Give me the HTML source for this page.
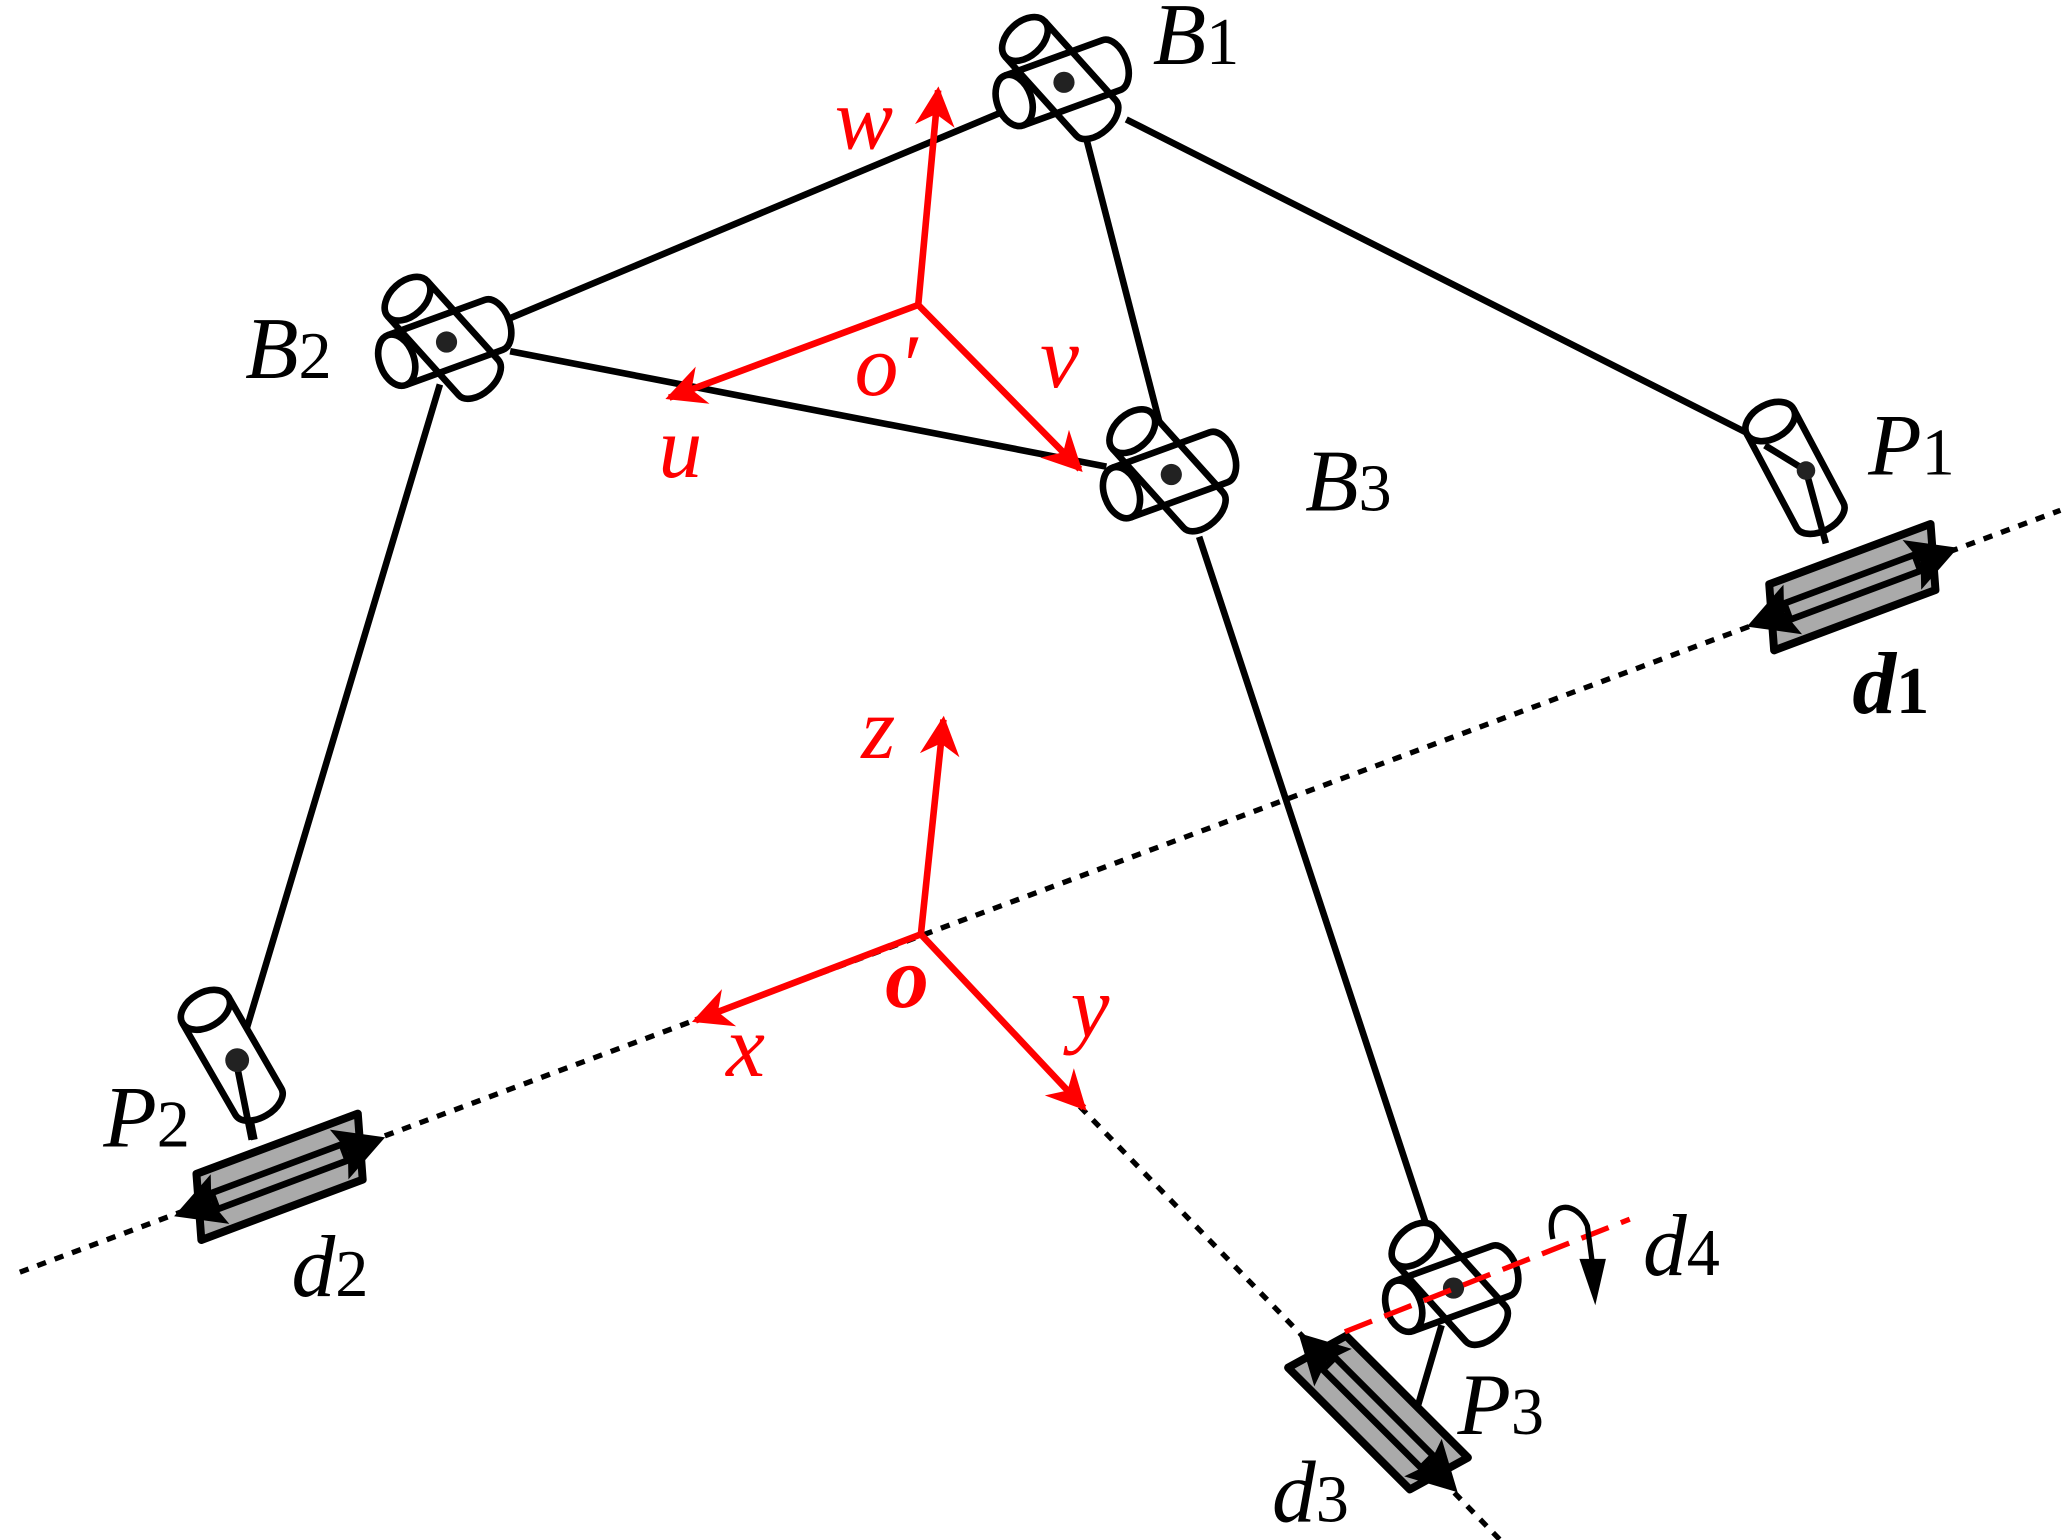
<!DOCTYPE html>
<html><head><style>html,body{margin:0;padding:0;background:#fff}svg{display:block}
.t{font-family:"Liberation Serif",serif;font-style:italic;font-size:66px}
.s{font-style:normal;font-size:50px}</style></head>
<body>
<svg width="2067" height="1540" viewBox="0 0 1560 1162" xmlns="http://www.w3.org/2000/svg">
<defs>
<g id="cyl"><!-- along x from 0 to 90, radius 20 -->
<path d="M0,-20 L80,-20 A12,20 0 0 1 80,20 L0,20" fill="#fff" stroke="#000" stroke-width="5"/>
<ellipse cx="0" cy="0" rx="13" ry="20" fill="#fff" stroke="#000" stroke-width="5"/>
</g>
<g id="joint">
<g transform="rotate(48) translate(-44,0)"><path d="M0,-20 L80,-20 A12,20 0 0 1 80,20 L0,20" fill="#fff" stroke="#000" stroke-width="5"/></g>
<g transform="rotate(-20) translate(-40,0)"><path d="M0,-20 L78,-20 A12,20 0 0 1 78,20 L0,20" fill="none" stroke="#000" stroke-width="5"/><ellipse cx="0" cy="0" rx="13" ry="20" fill="#fff" stroke="#000" stroke-width="5"/></g>
<g transform="rotate(48) translate(-44,0)"><ellipse cx="0" cy="0" rx="13" ry="20" fill="#fff" stroke="#000" stroke-width="5"/></g>
<circle cx="0" cy="0" r="8" fill="#222"/>
</g>
<marker id="ra" viewBox="0 0 10 10" refX="9" refY="5" markerWidth="6" markerHeight="6" orient="auto"><path d="M0,0 L10,5 L0,10 L3,5 z" fill="red"/></marker>
<g id="slider">
<polygon points="-72,24 -58,-24 72,-24 58,24" fill="#aaa" stroke="#000" stroke-width="6" stroke-linejoin="round"/>
<line x1="-55" y1="0" x2="55" y2="0" stroke="#000" stroke-width="18"/>
<line x1="-50" y1="0" x2="50" y2="0" stroke="#aaa" stroke-width="8"/>
<polygon points="-85,0 -48,-20 -55,0 -48,20" fill="#000"/>
<polygon points="85,0 48,-20 55,0 48,20" fill="#000"/>
</g>
</defs>
<g stroke="#000" stroke-width="4" stroke-dasharray="7,7" fill="none">
<line x1="15" y1="960" x2="1555" y2="385"/>
<line x1="815" y1="835" x2="1135" y2="1165"/>
</g>
<g stroke="#000" stroke-width="5" fill="none">
<line x1="755" y1="85" x2="385" y2="240"/>
<line x1="850" y1="90" x2="1345" y2="340"/>
<line x1="820" y1="105" x2="878" y2="330"/>
<line x1="385" y1="265" x2="835" y2="352"/>
<line x1="332" y1="290" x2="185" y2="780"/>
<line x1="905" y1="405" x2="1080" y2="935"/>
<line x1="1088" y1="1000" x2="1068" y2="1068"/>
<line x1="180" y1="800" x2="192" y2="860"/>
</g>
<!-- P joints -->
<g transform="translate(1336,318) rotate(62)"><use href="#cyl"/></g>
<line x1="1332" y1="336" x2="1363" y2="355" stroke="#000" stroke-width="5"/>
<line x1="1363" y1="355" x2="1378" y2="410" stroke="#000" stroke-width="5"/>
<circle cx="1363" cy="355" r="7" fill="#222"/>
<g transform="translate(155,762) rotate(60)"><use href="#cyl"/></g>
<line x1="178" y1="800" x2="190" y2="860" stroke="#000" stroke-width="5"/>
<circle cx="179" cy="800" r="9" fill="#222"/>
<!-- U joints -->
<use href="#joint" transform="translate(803,62)"/>
<use href="#joint" transform="translate(337,258)"/>
<use href="#joint" transform="translate(884,358)"/>
<use href="#joint" transform="translate(1097,972)"/>
<!-- sliders -->
<use href="#slider" transform="translate(1398,443) rotate(-20.5)"/>
<use href="#slider" transform="translate(211,888) rotate(-20.5)"/>
<use href="#slider" transform="translate(1040,1066) rotate(45)"/>
<!-- red -->
<g stroke="red" stroke-width="5" fill="none" marker-end="url(#ra)">
<line x1="693" y1="230" x2="708" y2="68"/>
<line x1="693" y1="230" x2="505" y2="300"/>
<line x1="693" y1="230" x2="815" y2="354"/>
<line x1="695" y1="705" x2="712" y2="543"/>
<line x1="695" y1="705" x2="525" y2="770"/>
<line x1="695" y1="705" x2="818" y2="836"/>
</g>
<line x1="1015" y1="1005" x2="1230" y2="920" stroke="red" stroke-width="4" stroke-dasharray="22,10"/>
<path d="M1172,935 C1165,905 1190,905 1198,925 L1202,955" fill="none" stroke="#000" stroke-width="4"/>
<polygon points="1192,950 1212,950 1204,985" fill="#000"/>
<g class="t">
<g fill="red">
<text x="630" y="112">w</text>
<text x="497" y="360">u</text>
<text x="785" y="292">v</text>
<text x="645" y="298">o′</text>
<text x="650" y="572">z</text>
<text x="548" y="812">x</text>
<text x="668" y="760" font-weight="bold">o</text>
<text x="808" y="782">y</text>
</g>
<g fill="#000">
<text x="870" y="48">B<tspan class="s">1</tspan></text>
<text x="185" y="285">B<tspan class="s">2</tspan></text>
<text x="985" y="385">B<tspan class="s">3</tspan></text>
<text x="1410" y="358">P<tspan class="s">1</tspan></text>
<text x="78" y="865">P<tspan class="s">2</tspan></text>
<text x="1100" y="1082">P<tspan class="s">3</tspan></text>
<text x="1398" y="538" font-weight="bold">d<tspan class="s">1</tspan></text>
<text x="220" y="978">d<tspan class="s">2</tspan></text>
<text x="960" y="1148">d<tspan class="s">3</tspan></text>
<text x="1240" y="962">d<tspan class="s">4</tspan></text>
</g>
</g>
</svg>
</body></html>
